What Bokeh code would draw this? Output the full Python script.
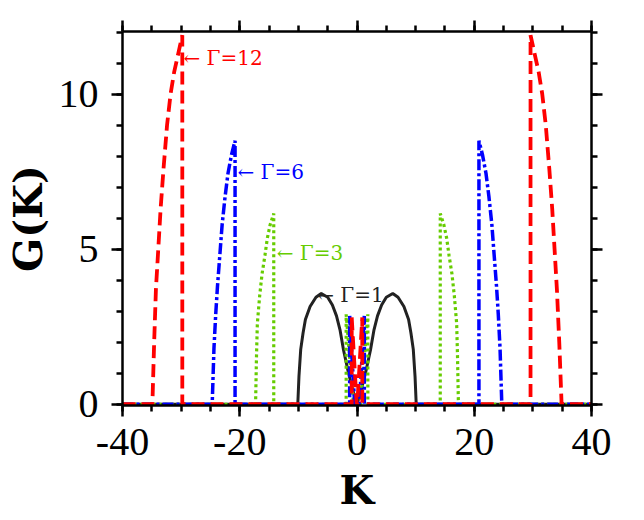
from bokeh.plotting import figure
from bokeh.models import LinearAxis, SingleIntervalTicker, ColumnDataSource, Range1d
from bokeh.core.properties import value
from bokeh.embed import file_html
from bokeh.resources import INLINE

# ---- data ----
# Gamma = 1 (black, solid)
g1_k = [-40, -10.1, -9.9, -9.6, -9.2, -8.8, -8.0, -7.0, -6.1, -5.0, -4.2, -3.5, -2.9, -2.3, -1.5, -0.7, 0,
        0.7, 1.5, 2.3, 2.9, 3.5, 4.2, 5.0, 6.1, 7.0, 8.0, 8.8, 9.2, 9.6, 9.9, 10.1, 40]
g1_g = [0, 0, 0.9, 1.77, 2.3, 2.73, 3.15, 3.45, 3.57, 3.45, 3.2, 2.85, 2.4, 1.75, 1.05, 0.45, 0,
        0.45, 1.05, 1.75, 2.4, 2.85, 3.2, 3.45, 3.57, 3.45, 3.15, 2.73, 2.3, 1.77, 0.9, 0, 0]

# Gamma = 3 (green, dotted)
g3_k = [-40, -17.3, -17.15, -17.0, -16.6, -16.2, -15.7, -15.3, -14.8, -14.2, -14.2, -1.85, -1.85, -0.6,
        0.6, 1.85, 1.85, 14.2, 14.2, 14.8, 15.3, 15.7, 16.2, 16.6, 17.0, 17.15, 17.3, 40]
g3_g = [0, 0, 1.5, 2.6, 3.5, 4.2, 4.8, 5.35, 5.8, 6.15, 0, 0, 2.9, 0,
        0, 2.9, 0, 0, 6.15, 5.8, 5.35, 4.8, 4.2, 3.5, 2.6, 1.5, 0, 0]

# Gamma = 6 (blue, dash-dot)
g6_k = [-40, -24.7, -24.4, -24.1, -23.8, -23.4, -23.0, -22.5, -22.0, -21.4, -20.8, -20.8, -1.25, -1.25, -0.4,
        0.4, 1.25, 1.25, 20.8, 20.8, 21.4, 22.0, 22.5, 23.0, 23.4, 23.8, 24.1, 24.4, 24.7, 40]
g6_g = [0, 0, 1.8, 2.9, 3.8, 4.8, 5.8, 6.7, 7.45, 8.05, 8.5, 0, 0, 2.85, 0,
        0, 2.85, 0, 0, 8.5, 8.05, 7.45, 6.7, 5.8, 4.8, 3.8, 2.9, 1.8, 0, 0]

# Gamma = 12 (red, dashed)
g12_k = [-40, -34.9, -34.6, -34.3, -33.9, -33.5, -33.0, -32.4, -31.8, -31.2, -30.5, -29.8, -29.8, -0.9, -0.9, -0.05,
         0.05, 0.9, 0.9, 29.6, 29.6, 30.3, 31.0, 31.6, 32.2, 32.8, 33.3, 33.7, 34.1, 34.5, 34.9, 40]
g12_g = [0, 0, 2.0, 3.7, 5.0, 6.3, 7.6, 9.0, 10.0, 10.7, 11.3, 11.9, 0, 0, 2.8, 0,
         0, 2.8, 0, 0, 11.9, 11.3, 10.7, 10.0, 9.0, 7.6, 6.3, 5.0, 3.7, 2.0, 0, 0]

# annotations
ann_text = ["\u2190 \u0393=12", "\u2190 \u0393=6", "\u2190 \u0393=3", "\u2190 \u0393=1"]
ann_k = [-29.6, -20.4, -13.7, -6.8]
ann_g = [11.18, 7.49, 4.89, 3.53]
ann_color = ["#ff0000", "#0000ff", "#66cc00", "#222222"]

x_ticks_interval = 20
y_ticks_interval = 5
x_label_overrides = {-40: "-40", -20: "-20"}

TICKFONT = "Liberation Serif"
LABFONT = "DejaVu Serif"

p = figure(width=644, height=520, output_backend="svg", toolbar_location=None,
           x_range=Range1d(-40, 40), y_range=Range1d(-0.04, 12.02),
           x_axis_location=None, y_axis_location=None,
           min_border_left=122, min_border_right=53, min_border_top=31, min_border_bottom=115)
p.outline_line_color = None
p.xgrid.visible = False
p.ygrid.visible = False
p.background_fill_color = "white"

def style_axis(ax, show_labels):
    ax.axis_line_width = 2.5
    ax.axis_line_color = "black"
    ax.major_tick_out = 11
    ax.major_tick_in = 0
    ax.minor_tick_out = 6
    ax.minor_tick_in = 0
    ax.major_tick_line_width = 2.5
    ax.minor_tick_line_width = 2.5
    ax.major_tick_line_color = "black"
    ax.minor_tick_line_color = "black"
    if show_labels:
        ax.major_label_text_font = TICKFONT
        ax.major_label_text_font_size = "40px"
        ax.major_label_text_color = "black"
    else:
        ax.major_label_text_font_size = "0px"
        ax.major_label_text_color = None
        ax.major_label_standoff = 0

xt = SingleIntervalTicker(interval=x_ticks_interval, num_minor_ticks=4)
yt = SingleIntervalTicker(interval=y_ticks_interval, num_minor_ticks=5)

bottom = LinearAxis(ticker=xt, axis_label="K")
style_axis(bottom, True)
bottom.major_label_overrides = x_label_overrides
bottom.major_label_standoff = 12
bottom.axis_label_text_font = LABFONT
bottom.axis_label_text_font_style = "bold"
bottom.axis_label_text_font_size = "40px"
bottom.axis_label_text_color = "black"
bottom.axis_label_standoff = 8
p.add_layout(bottom, "below")

left = LinearAxis(ticker=yt, axis_label="G(K)")
style_axis(left, True)
left.major_label_standoff = 13
left.axis_label_text_font = LABFONT
left.axis_label_text_font_style = "bold"
left.axis_label_text_font_size = "40px"
left.axis_label_text_color = "black"
left.axis_label_standoff = 5
p.add_layout(left, "left")

top = LinearAxis(ticker=SingleIntervalTicker(interval=x_ticks_interval, num_minor_ticks=4))
style_axis(top, False)
p.add_layout(top, "above")

right = LinearAxis(ticker=SingleIntervalTicker(interval=y_ticks_interval, num_minor_ticks=5))
style_axis(right, False)
p.add_layout(right, "right")

p.line(g1_k, g1_g, line_color="#222222", line_width=3)
p.line(g3_k, g3_g, line_color="#66cc00", line_width=3.2, line_dash="3 3")
p.line(g6_k, g6_g, line_color="#0000ff", line_width=3.5, line_dash="11 3 3 3")
p.line(g12_k, g12_g, line_color="#ff0000", line_width=3.8, line_dash="13 6")

src = ColumnDataSource(dict(x=ann_k, y=ann_g, t=ann_text, c=ann_color))
p.text(x="x", y="y", text="t", text_color="c", source=src, text_font=value(LABFONT),
       text_font_size="20px", text_align="left", text_baseline="middle")

open("out.html", "w").write(file_html(p, INLINE))
